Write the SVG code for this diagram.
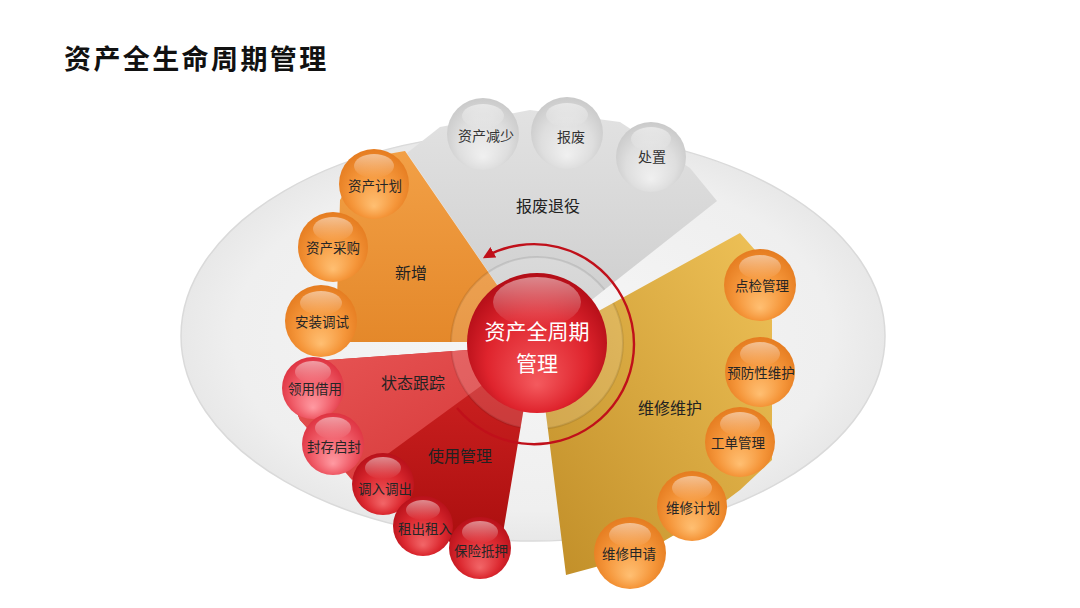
<svg xmlns="http://www.w3.org/2000/svg" width="1080" height="608" viewBox="0 0 1080 608">
<defs>
  <style>
    text { font-family: "Noto Sans CJK SC", "Noto Sans", sans-serif; text-anchor: middle; dominant-baseline: central; }
    .title { font-size: 27px; font-weight: bold; fill: #111; text-anchor: start; dominant-baseline: alphabetic; letter-spacing: 2.4px; }
    .b { font-size: 13.5px; fill: #262626; }
    .bg { font-size: 14px; fill: #333; }
    .s { font-size: 16px; fill: #222; }
    .c { font-size: 21px; fill: #ffffff; }
    .hl { fill: url(#gHl); }
  </style>
  <radialGradient id="gEll" cx="0.5" cy="0.5" r="0.5">
    <stop offset="0" stop-color="#f6f6f6"/>
    <stop offset="0.85" stop-color="#efefef"/>
    <stop offset="1" stop-color="#e8e8e8"/>
  </radialGradient>
  <linearGradient id="gGray" x1="0" y1="0" x2="0" y2="1">
    <stop offset="0" stop-color="#e2e2e2"/>
    <stop offset="1" stop-color="#cbcbcb"/>
  </linearGradient>
  <linearGradient id="gOrange" x1="0" y1="0" x2="0" y2="1">
    <stop offset="0" stop-color="#f2a046"/>
    <stop offset="1" stop-color="#e4882a"/>
  </linearGradient>
  <linearGradient id="gRedL" x1="0" y1="0" x2="1" y2="1">
    <stop offset="0" stop-color="#e85656"/>
    <stop offset="1" stop-color="#d43636"/>
  </linearGradient>
  <linearGradient id="gRedD" x1="0" y1="0" x2="0" y2="1">
    <stop offset="0" stop-color="#d22424"/>
    <stop offset="1" stop-color="#aa0e0e"/>
  </linearGradient>
  <linearGradient id="gYel" x1="1" y1="0" x2="0" y2="1">
    <stop offset="0" stop-color="#efc258"/>
    <stop offset="1" stop-color="#c08d27"/>
  </linearGradient>
  <radialGradient id="bO" cx="0.5" cy="0.55" r="0.55" fx="0.5" fy="0.82">
    <stop offset="0" stop-color="#ffbf72"/>
    <stop offset="0.6" stop-color="#f5963a"/>
    <stop offset="1" stop-color="#e57c20"/>
  </radialGradient>
  <radialGradient id="bG" cx="0.5" cy="0.55" r="0.55" fx="0.5" fy="0.82">
    <stop offset="0" stop-color="#f0f0f0"/>
    <stop offset="0.65" stop-color="#dedede"/>
    <stop offset="1" stop-color="#cacaca"/>
  </radialGradient>
  <radialGradient id="bP" cx="0.5" cy="0.55" r="0.55" fx="0.5" fy="0.82">
    <stop offset="0" stop-color="#ff9aa2"/>
    <stop offset="0.6" stop-color="#f05c68"/>
    <stop offset="1" stop-color="#de3341"/>
  </radialGradient>
  <radialGradient id="bR" cx="0.5" cy="0.55" r="0.55" fx="0.5" fy="0.82">
    <stop offset="0" stop-color="#f26668"/>
    <stop offset="0.6" stop-color="#dc2930"/>
    <stop offset="1" stop-color="#b8111a"/>
  </radialGradient>
  <radialGradient id="bC" cx="0.5" cy="0.55" r="0.55" fx="0.5" fy="0.8">
    <stop offset="0" stop-color="#f45a5e"/>
    <stop offset="0.65" stop-color="#df242d"/>
    <stop offset="1" stop-color="#b30d17"/>
  </radialGradient>
  <linearGradient id="gHl" x1="0" y1="0" x2="0" y2="1">
    <stop offset="0" stop-color="#ffffff" stop-opacity="0.5"/>
    <stop offset="1" stop-color="#ffffff" stop-opacity="0"/>
  </linearGradient>
  <marker id="arr" viewBox="0 0 10 10" refX="8" refY="5" markerWidth="5" markerHeight="5" orient="auto" markerUnits="strokeWidth">
    <path d="M0,0 L10,5 L0,10 z" fill="#c0101a"/>
  </marker>
  <clipPath id="secClip">
    <polygon points="537,343 407,153 440,127 530,110 620,122 690,168 717,201"/>
    <polygon points="537,343 405,151 365,158 340,200 337,300 345,342 537,342"/>
    <polygon points="537,345 300,362 285,385 300,420 350,470 400,512 460,548 501,545 523,413"/>
    <polygon points="537,345 740,233 755,250 772,320 772,460 740,490 700,520 640,555 566,575 548,430"/>
  </clipPath>
</defs>

<rect x="0" y="0" width="1080" height="608" fill="#ffffff"/>
<text class="title" x="64" y="69">资产全生命周期管理</text>

<ellipse id="base" cx="533" cy="336" rx="352" ry="205" fill="url(#gEll)" stroke="#dadada" stroke-width="1.5"/>

<g id="sector-baofei">
  <polygon points="537,343 407,153 440,127 530,110 620,122 690,168 717,201" fill="url(#gGray)"/>
  <text class="s" x="548" y="205">报废退役</text>
</g>
<g id="sector-xinzeng">
  <polygon points="537,343 405,151 365,158 340,200 337,300 345,342 537,342" fill="url(#gOrange)"/>
  <text class="s" x="411" y="272">新增</text>
</g>
<g id="sector-shiyong">
  <polygon points="537,345 300,362 285,385 300,420 350,470 400,512 460,548 501,545 523,413" fill="url(#gRedD)"/>
  <polygon points="537,345 300,362 285,385 300,420 352,480" fill="url(#gRedL)"/>
  <text class="s" x="413" y="382">状态跟踪</text>
  <text class="s" x="460" y="455">使用管理</text>
</g>
<g id="sector-weixiu">
  <polygon points="537,345 740,233 755,250 772,320 772,460 740,490 700,520 640,555 566,575 548,430" fill="url(#gYel)"/>
  <text class="s" x="670" y="407">维修维护</text>
</g>

<g id="ring" clip-path="url(#secClip)">
  <circle cx="537" cy="343" r="86" fill="#ffffff" fill-opacity="0.14" stroke="#000000" stroke-opacity="0.09" stroke-width="2"/>
</g>

<g id="connectors">
  <path d="M457,408 A100,100 0 1 0 485,257" fill="none" stroke="#c0101a" stroke-width="2.4" marker-end="url(#arr)"/>
</g>

<g id="center">
  <circle cx="537" cy="343" r="70" fill="url(#bC)"/>
  <ellipse cx="537" cy="302" rx="44" ry="25" class="hl"/>
  <text class="c" x="537" y="330">资产全周期</text>
  <text class="c" x="537" y="362">管理</text>
</g>

<g id="n-zichanjianshao"><circle cx="483" cy="134" r="36" fill="url(#bG)"/><ellipse cx="483" cy="116" rx="21" ry="12" class="hl"/><text class="bg" x="486" y="135">资产减少</text></g>
<g id="n-baofei"><circle cx="567" cy="133" r="36" fill="url(#bG)"/><ellipse cx="567" cy="115" rx="21" ry="12" class="hl"/><text class="bg" x="571" y="136">报废</text></g>
<g id="n-chuzhi"><circle cx="651" cy="157" r="35" fill="url(#bG)"/><ellipse cx="651" cy="139" rx="20" ry="12" class="hl"/><text class="bg" x="652" y="156">处置</text></g>

<g id="n-zichanjihua"><circle cx="374" cy="184" r="35" fill="url(#bO)"/><ellipse cx="374" cy="166" rx="20" ry="12" class="hl"/><text class="b" x="375" y="185">资产计划</text></g>
<g id="n-zichancaigou"><circle cx="333" cy="247" r="35" fill="url(#bO)"/><ellipse cx="333" cy="229" rx="20" ry="12" class="hl"/><text class="b" x="333" y="247">资产采购</text></g>
<g id="n-anzhuangtiaoshi"><circle cx="321" cy="321" r="36" fill="url(#bO)"/><ellipse cx="321" cy="303" rx="21" ry="12" class="hl"/><text class="b" x="322" y="321">安装调试</text></g>

<g id="n-lingyongjieyong"><circle cx="313" cy="388" r="31" fill="url(#bP)"/><ellipse cx="313" cy="372" rx="18" ry="11" class="hl"/><text class="b" x="315" y="388">领用借用</text></g>
<g id="n-fengcunqifeng"><circle cx="333" cy="444" r="31" fill="url(#bP)"/><ellipse cx="333" cy="428" rx="18" ry="11" class="hl"/><text class="b" x="334" y="446">封存启封</text></g>
<g id="n-tiaorutiaochu"><circle cx="383" cy="484" r="31" fill="url(#bR)"/><ellipse cx="383" cy="468" rx="18" ry="11" class="hl"/><text class="b" x="385" y="488">调入调出</text></g>
<g id="n-zuchuzuru"><circle cx="423" cy="526" r="30" fill="url(#bR)"/><ellipse cx="423" cy="510" rx="17" ry="10" class="hl"/><text class="b" x="425" y="528">租出租入</text></g>
<g id="n-baoxiandiya"><circle cx="480" cy="548" r="31" fill="url(#bR)"/><ellipse cx="480" cy="532" rx="18" ry="11" class="hl"/><text class="b" x="481" y="550">保险抵押</text></g>

<g id="n-dianjianguanli"><circle cx="760" cy="285" r="36" fill="url(#bO)"/><ellipse cx="760" cy="267" rx="21" ry="12" class="hl"/><text class="b" x="762" y="285">点检管理</text></g>
<g id="n-yufangxingweihu"><circle cx="760" cy="372" r="35" fill="url(#bO)"/><ellipse cx="760" cy="354" rx="20" ry="12" class="hl"/><text class="b" x="761" y="372">预防性维护</text></g>
<g id="n-gongdanguanli"><circle cx="740" cy="442" r="35" fill="url(#bO)"/><ellipse cx="740" cy="424" rx="20" ry="12" class="hl"/><text class="b" x="738" y="442">工单管理</text></g>
<g id="n-weixiujihua"><circle cx="692" cy="506" r="35" fill="url(#bO)"/><ellipse cx="692" cy="488" rx="20" ry="12" class="hl"/><text class="b" x="693" y="507">维修计划</text></g>
<g id="n-weixiushenqing"><circle cx="630" cy="553" r="36" fill="url(#bO)"/><ellipse cx="630" cy="535" rx="21" ry="12" class="hl"/><text class="b" x="629" y="553">维修申请</text></g>
</svg>
